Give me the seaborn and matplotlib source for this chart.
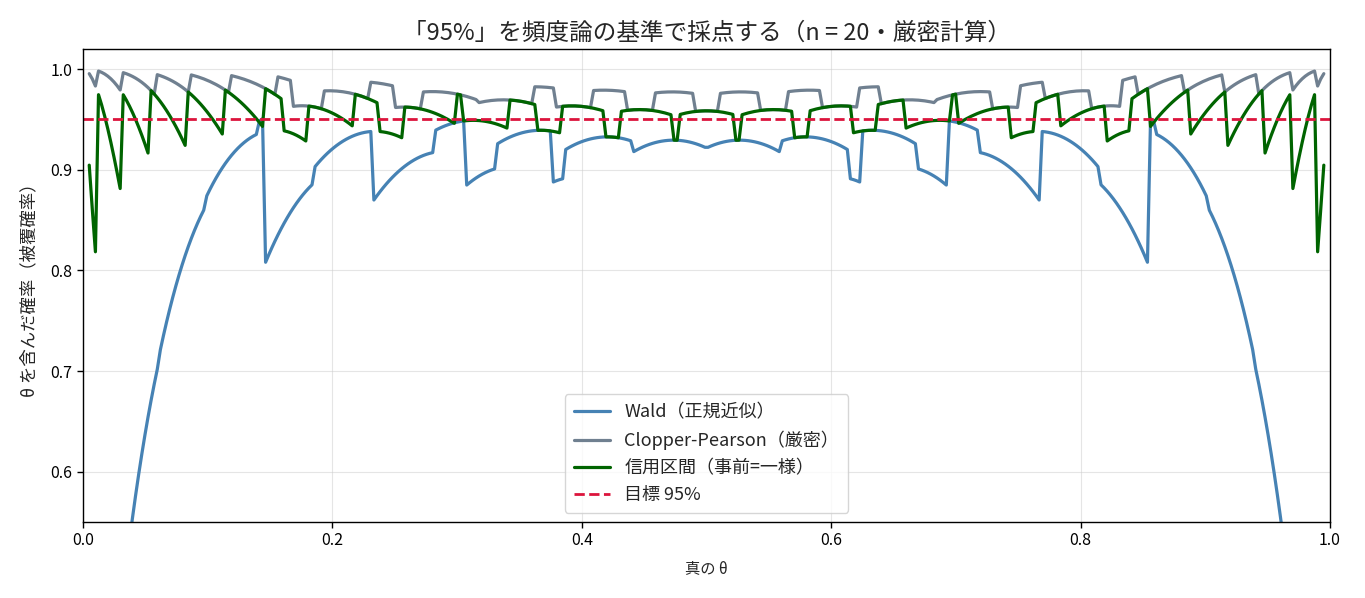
import numpy as np
import pandas as pd
import matplotlib
matplotlib.use("Agg")
import matplotlib.pyplot as plt
import seaborn as sns
from math import comb

# ---- data ----
n_trials = 20
theta_grid = np.linspace(0.005, 0.995, 400)
successes = np.arange(n_trials + 1)

# 95% interval bounds for each observed count x = 0..20
wald_lower = [0.00000,-0.04552,-0.03148,-0.00649,0.02470,0.06023,0.09916,0.14096,0.18530,0.23197,0.28087,
              0.33197,0.38530,0.44096,0.49916,0.56023,0.62470,0.69351,0.76852,0.85448,1.00000]
wald_upper = [0.00000,0.14552,0.23148,0.30649,0.37530,0.43977,0.50084,0.55904,0.61470,0.66803,0.71913,
              0.76803,0.81470,0.85904,0.90084,0.93977,0.97530,1.00649,1.03148,1.04552,1.00000]
cp_lower = [0.00000,0.00127,0.01235,0.03207,0.05733,0.08657,0.11893,0.15391,0.19119,0.23058,0.27196,
            0.31528,0.36054,0.40781,0.45721,0.50895,0.56339,0.62107,0.68302,0.75127,0.83157]
cp_upper = [0.16843,0.24873,0.31698,0.37893,0.43661,0.49105,0.54279,0.59219,0.63946,0.68472,0.72804,
            0.76942,0.80881,0.84609,0.88107,0.91343,0.94267,0.96793,0.98765,0.99873,1.00000]
bayes_lower = [0.00120,0.01175,0.03049,0.05446,0.08218,0.11281,0.14588,0.18107,0.21820,0.25713,0.29781,
               0.34021,0.38435,0.43032,0.47825,0.52834,0.58093,0.63658,0.69623,0.76184,0.83890]
bayes_upper = [0.16110,0.23816,0.30377,0.36342,0.41907,0.47166,0.52175,0.56968,0.61565,0.65979,0.70219,
               0.74287,0.78180,0.81893,0.85412,0.88719,0.91782,0.94554,0.96951,0.98825,0.99880]
target = 0.95

method_names = ["Wald（正規近似）", "Clopper-Pearson（厳密）", "信用区間（事前=一様）"]
method_colors = ["steelblue", "slategray", "darkgreen"]
method_bounds = [(wald_lower, wald_upper), (cp_lower, cp_upper), (bayes_lower, bayes_upper)]

# exact coverage: P_theta(L_X <= theta <= U_X), X ~ Binomial(20, theta)
binom_coef = np.array([comb(n_trials, int(k)) for k in successes], dtype=float)
pmf = binom_coef[None, :] * theta_grid[:, None] ** successes[None, :] * \
      (1 - theta_grid[:, None]) ** (n_trials - successes)[None, :]

rows = []
for name, (lo, hi) in zip(method_names, method_bounds):
    lo = np.asarray(lo); hi = np.asarray(hi)
    valid = hi > lo
    cover = (lo[None, :] <= theta_grid[:, None]) & (theta_grid[:, None] <= hi[None, :]) & valid[None, :]
    cov = (pmf * cover).sum(axis=1)
    rows.append(pd.DataFrame({"theta": theta_grid, "coverage": cov, "method": name}))
df = pd.concat(rows, ignore_index=True)

# ---- plot ----
sns.set_theme(style="ticks")
plt.rcParams["font.family"] = ["Noto Sans CJK JP", "DejaVu Sans"]
plt.rcParams["axes.unicode_minus"] = False

fig = plt.figure(figsize=(13.65, 5.98), dpi=100)
ax = fig.add_axes([0.0608, 0.127, 0.9136, 0.791])

for name, color in zip(method_names, method_colors):
    sns.lineplot(data=df[df["method"] == name], x="theta", y="coverage", color=color,
                 linewidth=2.3, label=name, ax=ax, estimator=None, sort=True)
ax.axhline(target, color="crimson", linestyle="--", linewidth=2.0, label="目標 95%")

ax.set_xlim(0, 1)
ax.set_ylim(0.55, 1.02)
ax.set_xticks([0.0, 0.2, 0.4, 0.6, 0.8, 1.0])
ax.set_yticks([0.6, 0.7, 0.8, 0.9, 1.0])
ax.tick_params(labelsize=11.5, length=4, width=1, colors="black")
for s in ax.spines.values():
    s.set_color("black"); s.set_linewidth(1)
ax.grid(True, color="#cccccc", alpha=0.5, linewidth=0.8)
ax.set_xlabel("真の θ", fontsize=11, labelpad=8)
ax.set_ylabel("θ を含んだ確率（被覆確率）", fontsize=12.5, labelpad=9)
ax.set_title("「95%」を頻度論の基準で採点する（n = 20・厳密計算）", fontsize=17, pad=7)
leg = ax.legend(loc="lower center", fontsize=13, frameon=True, fancybox=True,
                framealpha=0.8, edgecolor="#cccccc", borderpad=0.5, handlelength=2.0)

fig.savefig("out.png", dpi=100, facecolor="white")
